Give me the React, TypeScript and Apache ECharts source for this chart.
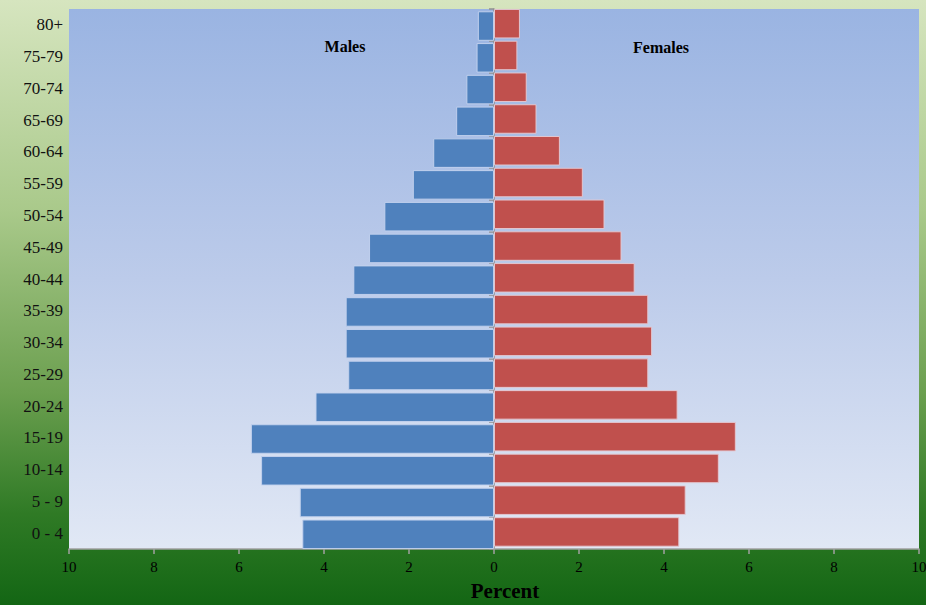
import React, { useEffect, useRef } from "react";
import * as echarts from "echarts";

const ageGroups = ["0 - 4", "5 - 9", "10-14", "15-19", "20-24", "25-29", "30-34", "35-39", "40-44", "45-49", "50-54", "55-59", "60-64", "65-69", "70-74", "75-79", "80+"];
const malesPct = [4.51, 4.57, 5.48, 5.72, 4.2, 3.43, 3.49, 3.49, 3.31, 2.94, 2.58, 1.91, 1.43, 0.89, 0.65, 0.41, 0.38];
const femalesPct = [4.36, 4.51, 5.29, 5.69, 4.32, 3.63, 3.72, 3.63, 3.31, 3.0, 2.6, 2.09, 1.55, 1.0, 0.77, 0.55, 0.61];
const xTicks = { min: -10, max: 10, interval: 2 };

const SERIF = "'Liberation Serif', 'Times New Roman', serif";

export default function App() {
  const ref = useRef<HTMLDivElement>(null);
  useEffect(() => {
    if (!ref.current) return;
    const chart = echarts.init(ref.current, null, { renderer: "svg" });
    chart.setOption({
      animation: false,
      backgroundColor: new echarts.graphic.LinearGradient(0, 0, 0, 1, [
        { offset: 0, color: "#d6e5bf" },
        { offset: 0.35, color: "#a9c98a" },
        { offset: 0.65, color: "#6b9f4f" },
        { offset: 0.85, color: "#2f7a25" },
        { offset: 1, color: "#136614" },
      ]),
      grid: {
        left: 69,
        right: 7,
        top: 9,
        bottom: 56,
        show: true,
        borderWidth: 0,
        containLabel: false,
        outerBoundsMode: "none",
        backgroundColor: new echarts.graphic.LinearGradient(0, 0, 0, 1, [
          { offset: 0, color: "#9ab4e2" },
          { offset: 0.5, color: "#bccbea" },
          { offset: 1, color: "#e1e8f5" },
        ]),
      },
      xAxis: {
        type: "value",
        min: xTicks.min,
        max: xTicks.max,
        interval: xTicks.interval,
        axisLine: { show: true, onZero: false, lineStyle: { color: "#a0a0a0", width: 1.5 } },
        axisTick: { show: true, length: 5, lineStyle: { color: "#a0a0a0", width: 1.5 } },
        splitLine: { show: false },
        axisLabel: {
          formatter: (v: number) => String(Math.abs(v)),
          color: "#000",
          fontFamily: SERIF,
          fontSize: 15,
          margin: 10,
        },
      },
      yAxis: [
        {
          type: "category",
          data: ageGroups,
          position: "left",
          axisLine: { show: false, onZero: false },
          axisTick: { show: false },
          splitLine: { show: false },
          axisLabel: {
            color: "#111",
            fontFamily: SERIF,
            fontSize: 17,
            margin: 6,
          },
        },
        {
          type: "category",
          data: ageGroups,
          position: "left",
          axisLine: { show: true, onZero: true, lineStyle: { color: "#909090", width: 1.5 } },
          axisTick: { show: true, length: 5, lineStyle: { color: "#909090", width: 1.5 } },
          axisLabel: { show: false },
          splitLine: { show: false },
        },
      ],
      series: [
        {
          name: "Females",
          type: "bar",
          yAxisIndex: 0,
          data: femalesPct,
          barWidth: 29.5,
          barGap: "-92%",
          itemStyle: { color: "#c0504d", borderColor: "rgba(228,200,210,0.95)", borderWidth: 1 },
        },
        {
          name: "Males",
          type: "bar",
          yAxisIndex: 0,
          data: malesPct.map((v) => -v),
          barWidth: 29.5,
          barGap: "-92%",
          itemStyle: { color: "#4f81bd", borderColor: "rgba(195,210,238,0.95)", borderWidth: 1 },
        },
      ],
      graphic: [
        {
          type: "text",
          x: 345,
          y: 46,
          style: { text: "Males", fontFamily: SERIF, fontWeight: "bold", fontSize: 16, fill: "#000", align: "center", verticalAlign: "middle" },
        },
        {
          type: "text",
          x: 661,
          y: 47,
          style: { text: "Females", fontFamily: SERIF, fontWeight: "bold", fontSize: 16, fill: "#000", align: "center", verticalAlign: "middle" },
        },
        {
          type: "text",
          x: 505,
          y: 591,
          style: { text: "Percent", fontFamily: SERIF, fontWeight: "bold", fontSize: 21, fill: "#000", align: "center", verticalAlign: "middle" },
        },
      ],
    });
    return () => chart.dispose();
  }, []);
  return (
    <div
      ref={ref}
      style={{ position: "absolute", left: 0, top: 0, width: 926, height: 605 }}
    />
  );
}
